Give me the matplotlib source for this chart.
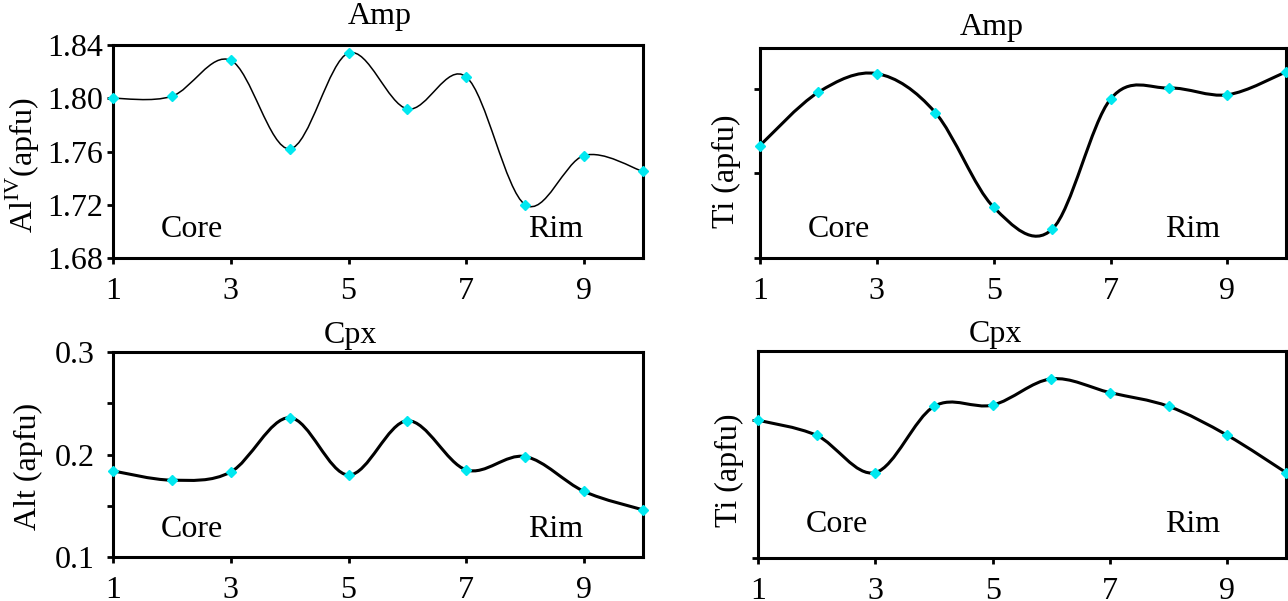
import numpy as np
import matplotlib.pyplot as plt
from matplotlib.path import Path
from matplotlib.patches import PathPatch
from matplotlib.ticker import FormatStrFormatter, NullFormatter

# analysis points along the core-to-rim traverse
point = [1, 2, 3, 4, 5, 6, 7, 8, 9, 10]

amp_aliv = [1.800, 1.8015, 1.8285, 1.762, 1.834, 1.792, 1.816, 1.720, 1.757, 1.745]
amp_ti = [0.133, 0.196, 0.218, 0.172, 0.060, 0.034, 0.188, 0.201, 0.193, 0.220]
cpx_alt = [0.184, 0.175, 0.183, 0.236, 0.180, 0.233, 0.185, 0.198, 0.164, 0.146]
cpx_ti = [0.100, 0.089, 0.062, 0.110, 0.111, 0.130, 0.120, 0.110, 0.089, 0.062]

xticks = [1, 3, 5, 7, 9]
aliv_ticks = [1.68, 1.72, 1.76, 1.80, 1.84]
alt_ticks = [0.1, 0.2, 0.3]
alt_minor = [0.15, 0.25]
amp_ti_ticks = [0.0, 0.1, 0.2]
cpx_ti_ticks = [0.0, 0.1]

plt.rcParams['font.family'] = 'Liberation Serif'
plt.rcParams['mathtext.fontset'] = 'custom'
plt.rcParams['mathtext.rm'] = 'Liberation Serif'


def smooth_path(x, y):
    # Catmull-Rom style curve through the points, as cubic Bezier segments
    px = np.r_[x[0], x, x[-1]].astype(float)
    py = np.r_[y[0], y, y[-1]].astype(float)
    verts = [(px[1], py[1])]
    for i in range(1, len(px) - 2):
        c1 = (px[i] + (px[i + 1] - px[i - 1]) / 6, py[i] + (py[i + 1] - py[i - 1]) / 6)
        c2 = (px[i + 1] - (px[i + 2] - px[i]) / 6, py[i + 1] - (py[i + 2] - py[i]) / 6)
        verts += [c1, c2, (px[i + 1], py[i + 1])]
    codes = [Path.MOVETO] + [Path.CURVE4] * (len(verts) - 1)
    return Path(verts, codes)


def panel(rect, y, lw, ylim, title, title_x, title_dy, ylabel, label_xy, text_y, rim_x):
    ax = fig.add_axes(rect)
    ax.add_patch(PathPatch(smooth_path(point, y), fill=False, lw=lw, color='black',
                           zorder=2))
    ax.plot(point, y, 'D', ms=4.8, color='#00e8f0', mec='#00e8f0', zorder=3,
            clip_on=False)
    ax.set_xlim(1, 10)
    ax.set_ylim(*ylim)
    ax.set_xticks(xticks)
    for s in ax.spines.values():
        s.set_linewidth(2.2)
    ax.tick_params(axis='both', which='both', direction='out', length=4, width=2,
                   labelsize=23)
    ax.tick_params(axis='x', pad=10)
    ax.text(title_x, 1 + title_dy, title, transform=ax.transAxes, ha='center',
            va='baseline', fontsize=23)
    ax.set_ylabel(ylabel, fontsize=23)
    ax.yaxis.set_label_coords(*label_xy)
    ax.text(0.09, text_y, 'Core', transform=ax.transAxes, ha='left', va='baseline',
            fontsize=23)
    ax.text(rim_x, text_y, 'Rim', transform=ax.transAxes, ha='right', va='baseline',
            fontsize=23)
    return ax


fig = plt.figure(figsize=(12.88, 6.01), dpi=100)

ax1 = panel([0.0877, 0.5707, 0.4115, 0.3544], amp_aliv, 1.1, (1.68, 1.84), 'Amp',
            0.504, 0.10, r'Al$^{\mathrm{IV}}$(apfu)', (-0.134, 0.437), 0.10, 0.887)
ax1.set_yticks(aliv_ticks)
ax1.yaxis.set_major_formatter(FormatStrFormatter('%.2f'))
ax1.tick_params(axis='y', pad=3)

ax2 = panel([0.590, 0.5707, 0.4084, 0.349], amp_ti, 2.2, (0, 0.248), 'Amp',
            0.441, 0.062, 'Ti (apfu)', (-0.036, 0.414), 0.10, 0.875)
ax2.set_yticks(amp_ti_ticks)
ax2.yaxis.set_major_formatter(NullFormatter())

ax3 = panel([0.0877, 0.0732, 0.4115, 0.341], cpx_alt, 2.2, (0.1, 0.3), 'Cpx',
            0.449, 0.044, 'Alt (apfu)', (-0.132, 0.44), 0.098, 0.887)
ax3.set_yticks(alt_ticks)
ax3.set_yticks(alt_minor, minor=True)
ax3.yaxis.set_major_formatter(FormatStrFormatter('%.1f'))
ax3.tick_params(axis='y', pad=9)

ax4 = panel([0.5885, 0.0715, 0.410, 0.344], cpx_ti, 2.2, (0, 0.15), 'Cpx',
            0.449, 0.044, 'Ti (apfu)', (-0.027, 0.425), 0.126, 0.875)
ax4.set_yticks(cpx_ti_ticks)
ax4.yaxis.set_major_formatter(NullFormatter())

fig.savefig('out.png', dpi=100)
